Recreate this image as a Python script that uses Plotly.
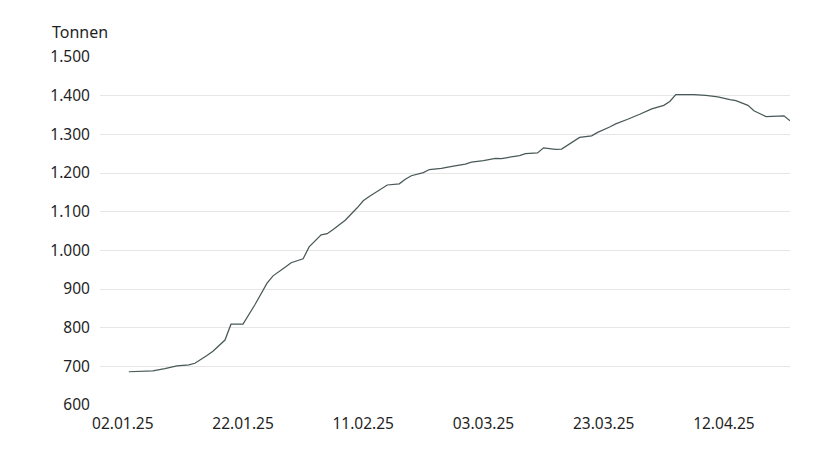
import plotly.graph_objects as go

dates = [
    "2025-01-03", "2025-01-05", "2025-01-07", "2025-01-09", "2025-01-11", "2025-01-13",
    "2025-01-14", "2025-01-16", "2025-01-17", "2025-01-19", "2025-01-20", "2025-01-22",
    "2025-01-24", "2025-01-26", "2025-01-27", "2025-01-29", "2025-01-30", "2025-02-01",
    "2025-02-02", "2025-02-04", "2025-02-05", "2025-02-06", "2025-02-08", "2025-02-10",
    "2025-02-11", "2025-02-12", "2025-02-14", "2025-02-15", "2025-02-17", "2025-02-18",
    "2025-02-19", "2025-02-21", "2025-02-22", "2025-02-24", "2025-02-26", "2025-02-28",
    "2025-03-01", "2025-03-03", "2025-03-05", "2025-03-06", "2025-03-07", "2025-03-09",
    "2025-03-10", "2025-03-12", "2025-03-13", "2025-03-15", "2025-03-16", "2025-03-18",
    "2025-03-19", "2025-03-21", "2025-03-22", "2025-03-24", "2025-03-25", "2025-03-27",
    "2025-03-28", "2025-03-29", "2025-03-31", "2025-04-02", "2025-04-03", "2025-04-04",
    "2025-04-06", "2025-04-07", "2025-04-09", "2025-04-10", "2025-04-11", "2025-04-13",
    "2025-04-14", "2025-04-16", "2025-04-17", "2025-04-19", "2025-04-20", "2025-04-22",
    "2025-04-23",
]
tonnen = [
    686, 687, 688, 694, 701, 704,
    708, 728, 739, 768, 809, 809,
    860, 915, 934, 956, 968, 978,
    1009, 1040, 1043, 1054, 1078, 1110,
    1128, 1139, 1159, 1169, 1172, 1184,
    1193, 1201, 1209, 1212, 1218, 1223,
    1228, 1232, 1238, 1237, 1240, 1245,
    1250, 1252, 1265, 1261, 1262, 1283,
    1292, 1296, 1305, 1319, 1327, 1339,
    1345, 1352, 1366, 1375, 1385, 1403,
    1403, 1403, 1401, 1399, 1397, 1390,
    1387, 1375, 1361, 1346, 1347, 1348,
    1335,
]

y_title = "Tonnen"
x_range = ["2024-12-29 05:00", "2025-04-23 00:00"]
y_range = [600, 1500]
x_tick0 = "2025-01-02"

FONT = "Noto Sans, Open Sans, sans-serif"
TEXT = "#1f1f1f"

fig = go.Figure(
    go.Scatter(
        x=dates, y=tonnen, mode="lines",
        line=dict(color="#4a5858", width=1.25),
        hoverinfo="skip",
    )
)

# the page body adds an 8px offset, margins compensate for it
fig.update_layout(
    width=840, height=452,
    margin=dict(l=92, r=58, t=49, b=55),
    paper_bgcolor="white", plot_bgcolor="white",
    separators=",.",
    showlegend=False,
    font=dict(family=FONT, size=15.5, color=TEXT),
    xaxis=dict(
        type="date", range=x_range,
        tick0=x_tick0, dtick=20 * 86400000, tickformat="%d.%m.%y",
        showgrid=False, zeroline=False, showline=False,
        ticks="outside", ticklen=4, tickcolor="rgba(0,0,0,0)",
        tickfont=dict(family=FONT, size=15.5, color=TEXT),
    ),
    yaxis=dict(
        range=y_range, tick0=600, dtick=100, tickformat=",d",
        showgrid=True, gridcolor="#e6e6e6", gridwidth=1,
        zeroline=False, showline=False,
        ticks="outside", ticklen=6, tickcolor="rgba(0,0,0,0)",
        tickfont=dict(family=FONT, size=15.5, color=TEXT),
    ),
    annotations=[
        dict(
            text=y_title, xref="paper", yref="paper",
            x=-50 / 690, y=1 + (57 - 32.5) / 348,
            xanchor="left", yanchor="middle", showarrow=False,
            font=dict(family=FONT, size=16, color=TEXT),
        )
    ],
)

fig.write_html("out.html")
